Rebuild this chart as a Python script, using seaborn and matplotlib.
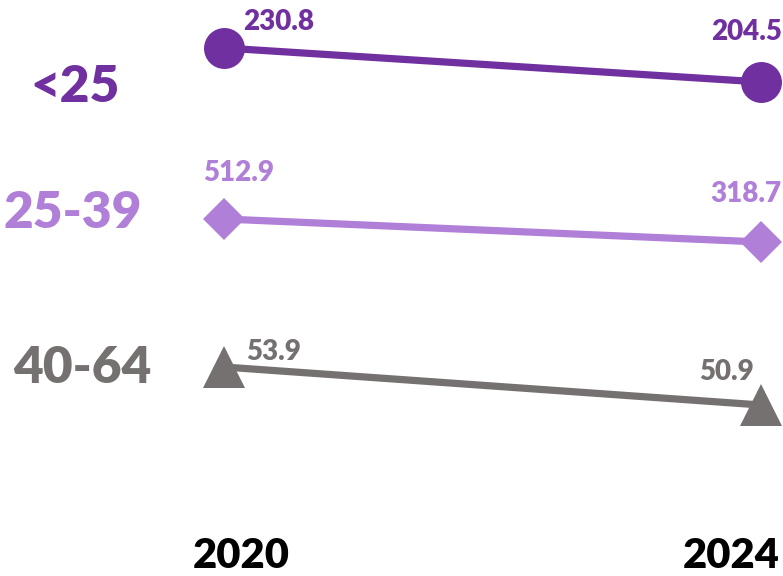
import numpy as np
import pandas as pd
import seaborn as sns
import matplotlib
matplotlib.use("Agg")
import matplotlib.pyplot as plt

# ---- data ----
years = [2020, 2024]
year_labels = ["2020", "2024"]
groups = ["<25", "25-39", "40-64"]
val_lt25 = [230.8, 204.5]
val_25_39 = [512.9, 318.7]
val_40_64 = [53.9, 50.9]
series_values = [val_lt25, val_25_39, val_40_64]

# ---- style ----
sns.set_theme(style="white")
plt.rcParams['font.family'] = ['Lato', 'DejaVu Sans']
plt.rcParams['font.weight'] = 'bold'
FW = "heavy"

colors = ["#7030A0", "#B07FD8", "#767171"]
markers = ["o", "D", "^"]
msizes = [29.5, 21, 30]

W, H = 783, 576
fig = plt.figure(figsize=(W / 100, H / 100), dpi=100)

# pixel layout for each series (x px of the two years, y px of the two points)
x_px = (224, 761)
y_px = [(48, 82), (219, 242), (367, 405)]
# label offsets in pixels (dx, dy, ha) for the two points
lab_off = [
    [(19, 18, "left"), (21, 42, "right")],
    [(-21, 38, "left"), (20, 40, "right")],
    [(22, 7, "left"), (-7, 25, "right")],
]
group_pos = [(75, 87), (73, 213), (82, 368)]


def lims(v0, v1, f0, f1):
    scale = (v1 - v0) / (f1 - f0)
    lo = v0 - f0 * scale
    return lo, lo + scale


xlim = lims(years[0], years[1], x_px[0] / W, x_px[1] / W)

for i, (g, vals) in enumerate(zip(groups, series_values)):
    ax = fig.add_axes([0, 0, 1, 1])
    ax.patch.set_alpha(0)
    df = pd.DataFrame({"year": years, "value": vals})
    sns.lineplot(data=df, x="year", y="value", ax=ax, color=colors[i],
                 linewidth=5.2, marker=markers[i], markersize=msizes[i],
                 markeredgewidth=0, markerfacecolor=colors[i])
    ax.set_xlim(*xlim)
    f0 = 1 - y_px[i][0] / H
    f1 = 1 - y_px[i][1] / H
    ax.set_ylim(*lims(vals[0], vals[1], f0, f1))
    ax.set_axis_off()
    for j in range(2):
        dx, dy, ha = lab_off[i][j]
        ax.annotate(f"{vals[j]:.1f}", (years[j], vals[j]),
                    xytext=(dx, dy), textcoords="offset pixels",
                    ha=ha, va="baseline", fontsize=20, fontweight=FW,
                    color=colors[i], annotation_clip=False)
    gx, gy = group_pos[i]
    fig.text(gx / W, 1 - gy / H, g, ha="center", va="center",
             fontsize=37, fontweight=FW, color=colors[i])

fig.text(241 / W, 1 - 568 / H, year_labels[0], ha="center", va="baseline",
         fontsize=30, fontweight=FW, color="black")
fig.text(731 / W, 1 - 568 / H, year_labels[1], ha="center", va="baseline",
         fontsize=30, fontweight=FW, color="black")

fig.savefig("out.png", dpi=100, facecolor="white")
